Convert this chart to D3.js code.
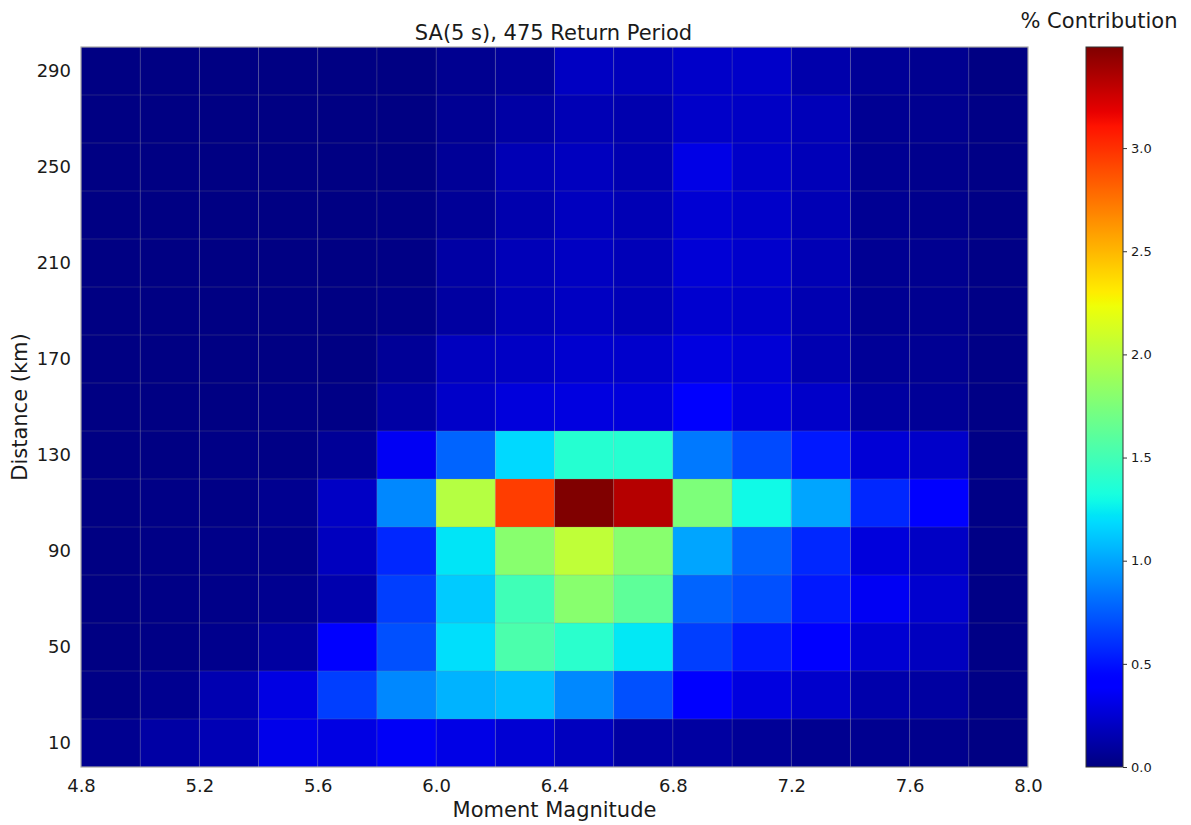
<!DOCTYPE html>
<html>
<head>
<meta charset="utf-8">
<script src="https://cdn.jsdelivr.net/npm/d3@7"></script>
<style>
  html, body { margin: 0; padding: 0; background: #fff; }
  svg text { font-family: "DejaVu Sans", sans-serif; fill: #1a1a1a; }
</style>
</head>
<body>
<svg id="chart" width="1191" height="825"></svg>
<script>
// Magnitude bins (lower edges, width 0.2)
const magnitudeBins = [4.8, 5.0, 5.2, 5.4, 5.6, 5.8, 6.0, 6.2, 6.4, 6.6, 6.8, 7.0, 7.2, 7.4, 7.6, 7.8];
const magnitudeStep = 0.2;
// Distance bins (lower edges, km, width 20)
const distanceBins = [0, 20, 40, 60, 80, 100, 120, 140, 160, 180, 200, 220, 240, 260, 280];
const distanceStep = 20;

// % contribution per distance bin, one value per magnitude bin
const d0_20    = [0.05, 0.11, 0.16, 0.32, 0.30, 0.36, 0.31, 0.25, 0.19, 0.11, 0.10, 0.07, 0.05, 0.05, 0.04, 0.01];
const d20_40   = [0.02, 0.05, 0.15, 0.30, 0.65, 0.90, 1.05, 1.09, 0.90, 0.71, 0.40, 0.29, 0.23, 0.13, 0.10, 0.02];
const d40_60   = [0.01, 0.02, 0.04, 0.10, 0.41, 0.71, 1.20, 1.54, 1.40, 1.23, 0.65, 0.52, 0.42, 0.25, 0.19, 0.02];
const d60_80   = [0.01, 0.02, 0.03, 0.05, 0.14, 0.65, 1.13, 1.49, 1.80, 1.62, 0.78, 0.71, 0.52, 0.35, 0.24, 0.02];
const d80_100  = [0.01, 0.02, 0.03, 0.04, 0.19, 0.57, 1.22, 1.80, 2.03, 1.80, 1.00, 0.77, 0.57, 0.28, 0.21, 0.02];
const d100_120 = [0.01, 0.02, 0.02, 0.05, 0.21, 0.90, 1.99, 2.95, 3.49, 3.33, 1.75, 1.29, 1.00, 0.57, 0.43, 0.02];
const d120_140 = [0.01, 0.01, 0.02, 0.02, 0.07, 0.35, 0.78, 1.18, 1.38, 1.38, 0.85, 0.69, 0.52, 0.26, 0.22, 0.02];
const d140_160 = [0.01, 0.01, 0.01, 0.02, 0.02, 0.11, 0.22, 0.28, 0.29, 0.28, 0.38, 0.29, 0.22, 0.10, 0.07, 0.02];
const d160_180 = [0.01, 0.01, 0.01, 0.01, 0.01, 0.07, 0.19, 0.21, 0.24, 0.23, 0.29, 0.26, 0.15, 0.07, 0.06, 0.02];
const d180_200 = [0.01, 0.01, 0.01, 0.01, 0.01, 0.03, 0.10, 0.17, 0.20, 0.17, 0.24, 0.22, 0.15, 0.06, 0.05, 0.02];
const d200_220 = [0.01, 0.01, 0.01, 0.01, 0.01, 0.02, 0.11, 0.17, 0.20, 0.17, 0.26, 0.23, 0.16, 0.06, 0.05, 0.02];
const d220_240 = [0.01, 0.01, 0.01, 0.01, 0.01, 0.02, 0.07, 0.14, 0.19, 0.16, 0.25, 0.22, 0.16, 0.06, 0.04, 0.02];
const d240_260 = [0.01, 0.01, 0.01, 0.01, 0.01, 0.01, 0.07, 0.16, 0.19, 0.15, 0.31, 0.22, 0.17, 0.06, 0.04, 0.02];
const d260_280 = [0.01, 0.01, 0.01, 0.01, 0.01, 0.01, 0.06, 0.11, 0.16, 0.14, 0.22, 0.21, 0.17, 0.06, 0.05, 0.02];
const d280_300 = [0.01, 0.01, 0.01, 0.01, 0.01, 0.01, 0.05, 0.08, 0.20, 0.18, 0.22, 0.22, 0.13, 0.07, 0.05, 0.01];

const contribution = [d0_20, d20_40, d40_60, d60_80, d80_100, d100_120, d120_140,
  d140_160, d160_180, d180_200, d200_220, d220_240, d240_260, d260_280, d280_300];

// Tick labels
const magnitudeTicks = [4.8, 5.2, 5.6, 6.0, 6.4, 6.8, 7.2, 7.6, 8.0];
const distanceTicks = [10, 50, 90, 130, 170, 210, 250, 290];
const colorbarTicks = [0.0, 0.5, 1.0, 1.5, 2.0, 2.5, 3.0];

const titleText = "SA(5 s), 475 Return Period";
const xLabel = "Moment Magnitude";
const yLabel = "Distance (km)";
const cbLabel = "% Contribution";

// Jet colour map (piecewise-linear segments)
const jetSeg = {
  r: [[0, 0], [0.35, 0], [0.66, 1], [0.89, 1], [1, 0.5]],
  g: [[0, 0], [0.125, 0], [0.375, 1], [0.64, 1], [0.91, 0], [1, 0]],
  b: [[0, 0.5], [0.11, 1], [0.34, 1], [0.65, 0], [1, 0]]
};
function segVal(seg, t) {
  t = Math.max(0, Math.min(1, t));
  for (let i = 1; i < seg.length; i++) {
    if (t <= seg[i][0]) {
      const [x0, y0] = seg[i - 1], [x1, y1] = seg[i];
      return y0 + (y1 - y0) * (t - x0) / (x1 - x0);
    }
  }
  return seg[seg.length - 1][1];
}
function jet(t) {
  const c = v => Math.round(255 * v);
  return `rgb(${c(segVal(jetSeg.r, t))},${c(segVal(jetSeg.g, t))},${c(segVal(jetSeg.b, t))})`;
}

const svg = d3.select("#chart");
const plot = { left: 81, right: 1028, top: 47, bottom: 767 };

const x = d3.scaleLinear().domain([4.8, 8.0]).range([plot.left, plot.right]);
const y = d3.scaleLinear().domain([0, 300]).range([plot.bottom, plot.top]);

const vmax = d3.max(contribution.flat());
const color = d3.scaleSequential(jet).domain([0, vmax]);

// Heat-map cells
const cells = [];
contribution.forEach((row, i) => row.forEach((v, j) => {
  cells.push({ m: magnitudeBins[j], d: distanceBins[i], v });
}));

svg.append("g").selectAll("rect").data(cells).join("rect")
  .attr("x", d => x(d.m))
  .attr("y", d => y(d.d + distanceStep))
  .attr("width", d => x(d.m + magnitudeStep) - x(d.m))
  .attr("height", d => y(d.d) - y(d.d + distanceStep))
  .attr("fill", d => color(d.v));

// Grid lines on cell boundaries
const grid = svg.append("g").attr("stroke", "rgba(140,140,140,0.25)").attr("stroke-width", 1);
magnitudeBins.slice(1).forEach(m => {
  grid.append("line").attr("x1", x(m)).attr("x2", x(m)).attr("y1", plot.top).attr("y2", plot.bottom);
});
distanceBins.slice(1).forEach(dd => {
  grid.append("line").attr("x1", plot.left).attr("x2", plot.right).attr("y1", y(dd)).attr("y2", y(dd));
});

// Frame
svg.append("rect")
  .attr("x", plot.left).attr("y", plot.top)
  .attr("width", plot.right - plot.left).attr("height", plot.bottom - plot.top)
  .attr("fill", "none").attr("stroke", "#a8a8a8").attr("stroke-width", 1.2);

// Axes
const xAxis = svg.append("g").attr("transform", `translate(0,${plot.bottom})`)
  .call(d3.axisBottom(x).tickValues(magnitudeTicks).tickSize(0).tickPadding(12).tickFormat(d3.format(".1f")));
xAxis.select(".domain").remove();
xAxis.selectAll("text").style("font-size", "18px");

const yAxis = svg.append("g").attr("transform", `translate(${plot.left},0)`)
  .call(d3.axisLeft(y).tickValues(distanceTicks).tickSize(0).tickPadding(10));
yAxis.select(".domain").remove();
yAxis.selectAll("text").style("font-size", "18px");

// Axis titles
svg.append("text").attr("x", (plot.left + plot.right) / 2).attr("y", 817)
  .attr("text-anchor", "middle").style("font-size", "21px").text(xLabel);
svg.append("text").attr("transform", `translate(27,${(plot.top + plot.bottom) / 2}) rotate(-90)`)
  .attr("text-anchor", "middle").style("font-size", "21px").text(yLabel);

// Title
svg.append("text").attr("x", (plot.left + plot.right) / 2 - 1).attr("y", 40)
  .attr("text-anchor", "middle")
  .style("font-size", "21px").text(titleText);

// Colour bar
const cb = { left: 1086, width: 37 };
const cy = d3.scaleLinear().domain([0, vmax]).range([plot.bottom, plot.top]);
const defs = svg.append("defs");
const grad = defs.append("linearGradient").attr("id", "jetGrad")
  .attr("x1", 0).attr("y1", 1).attr("x2", 0).attr("y2", 0);
d3.range(0, 101).forEach(k => {
  grad.append("stop").attr("offset", `${k}%`).attr("stop-color", jet(k / 100));
});
svg.append("rect").attr("x", cb.left).attr("y", plot.top)
  .attr("width", cb.width).attr("height", plot.bottom - plot.top)
  .attr("fill", "url(#jetGrad)").attr("stroke", "#333").attr("stroke-width", 1);

const cbAxis = svg.append("g").attr("transform", `translate(${cb.left + cb.width},0)`)
  .call(d3.axisRight(cy).tickValues(colorbarTicks).tickSize(4).tickPadding(4).tickFormat(d3.format(".1f")));
cbAxis.select(".domain").remove();
cbAxis.selectAll("line").attr("stroke", "#333");
cbAxis.selectAll("text").style("font-size", "13px");

svg.append("text").attr("x", 1099).attr("y", 28)
  .attr("text-anchor", "middle").style("font-size", "21px").text(cbLabel);
</script>
</body>
</html>
